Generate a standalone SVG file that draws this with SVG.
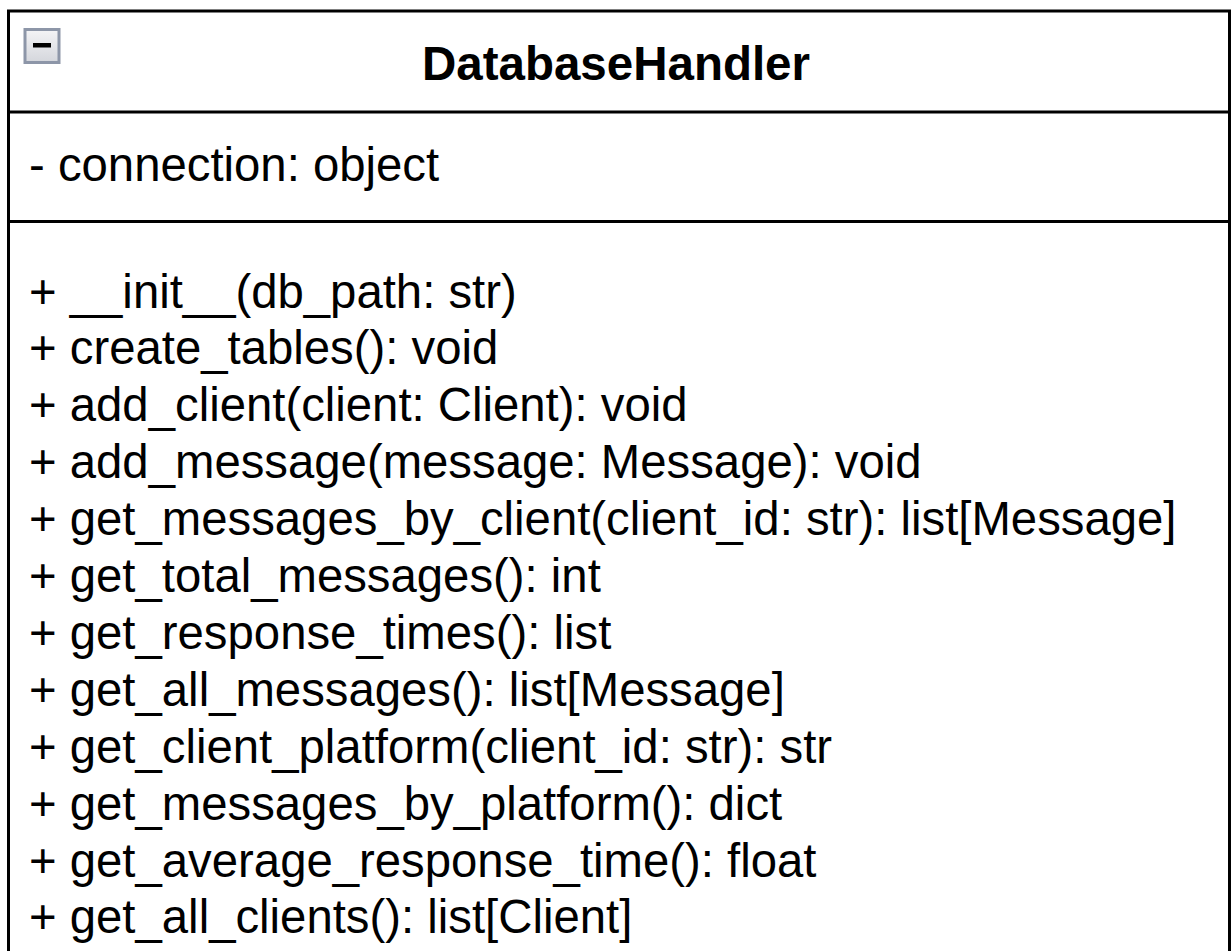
<svg xmlns="http://www.w3.org/2000/svg" width="1232" height="951" viewBox="0 0 1232 951">
  <style>
    .frame { fill: #ffffff; stroke: #000000; stroke-width: 3; }
    .rule { stroke: #000000; stroke-width: 3; }
    .title { font-family: "Liberation Sans", Arial, sans-serif; font-size: 47.5px; font-weight: bold; fill: #000000; }
    .member { font-family: "Liberation Sans", Arial, sans-serif; font-size: 47.3px; fill: #000000; }
  </style>
  <defs>
    <linearGradient id="btnFill" x1="0" y1="0" x2="0" y2="1">
      <stop offset="0" stop-color="#f4f4f6"/>
      <stop offset="1" stop-color="#d4d6dc"/>
    </linearGradient>
  </defs>
  <rect x="0" y="0" width="1232" height="951" fill="#ffffff"/>
  <g id="DatabaseHandler">
    <!-- class box, bottom edge runs past the canvas -->
    <rect class="frame" x="8.5" y="11" width="1221" height="960"/>
    <line class="rule" x1="8.5" y1="112" x2="1229.5" y2="112"/>
    <line class="rule" x1="8.5" y1="221.5" x2="1229.5" y2="221.5"/>
    <!-- collapse toggle -->
    <g id="collapse-toggle">
      <rect x="25" y="29.5" width="34" height="33" fill="url(#btnFill)" stroke="#8d96a8" stroke-width="3"/>
      <rect x="33" y="43" width="18" height="4.5" fill="#000000"/>
    </g>
    <text class="title" x="616" y="79.5" text-anchor="middle">DatabaseHandler</text>
    <text class="member" x="29" y="180.5">- connection: object</text>
    <g class="member">
      <text x="29" y="307.5">+ __init__(db_path: str)</text>
      <text x="29" y="364.4">+ create_tables(): void</text>
      <text x="29" y="421.3">+ add_client(client: Client): void</text>
      <text x="29" y="478.2">+ add_message(message: Message): void</text>
      <text x="29" y="535.1">+ get_messages_by_client(client_id: str): list[Message]</text>
      <text x="29" y="592">+ get_total_messages(): int</text>
      <text x="29" y="648.9">+ get_response_times(): list</text>
      <text x="29" y="705.8">+ get_all_messages(): list[Message]</text>
      <text x="29" y="762.7">+ get_client_platform(client_id: str): str</text>
      <text x="29" y="819.6">+ get_messages_by_platform(): dict</text>
      <text x="29" y="876.5">+ get_average_response_time(): float</text>
      <text x="29" y="933.4">+ get_all_clients(): list[Client]</text>
    </g>
  </g>
</svg>
